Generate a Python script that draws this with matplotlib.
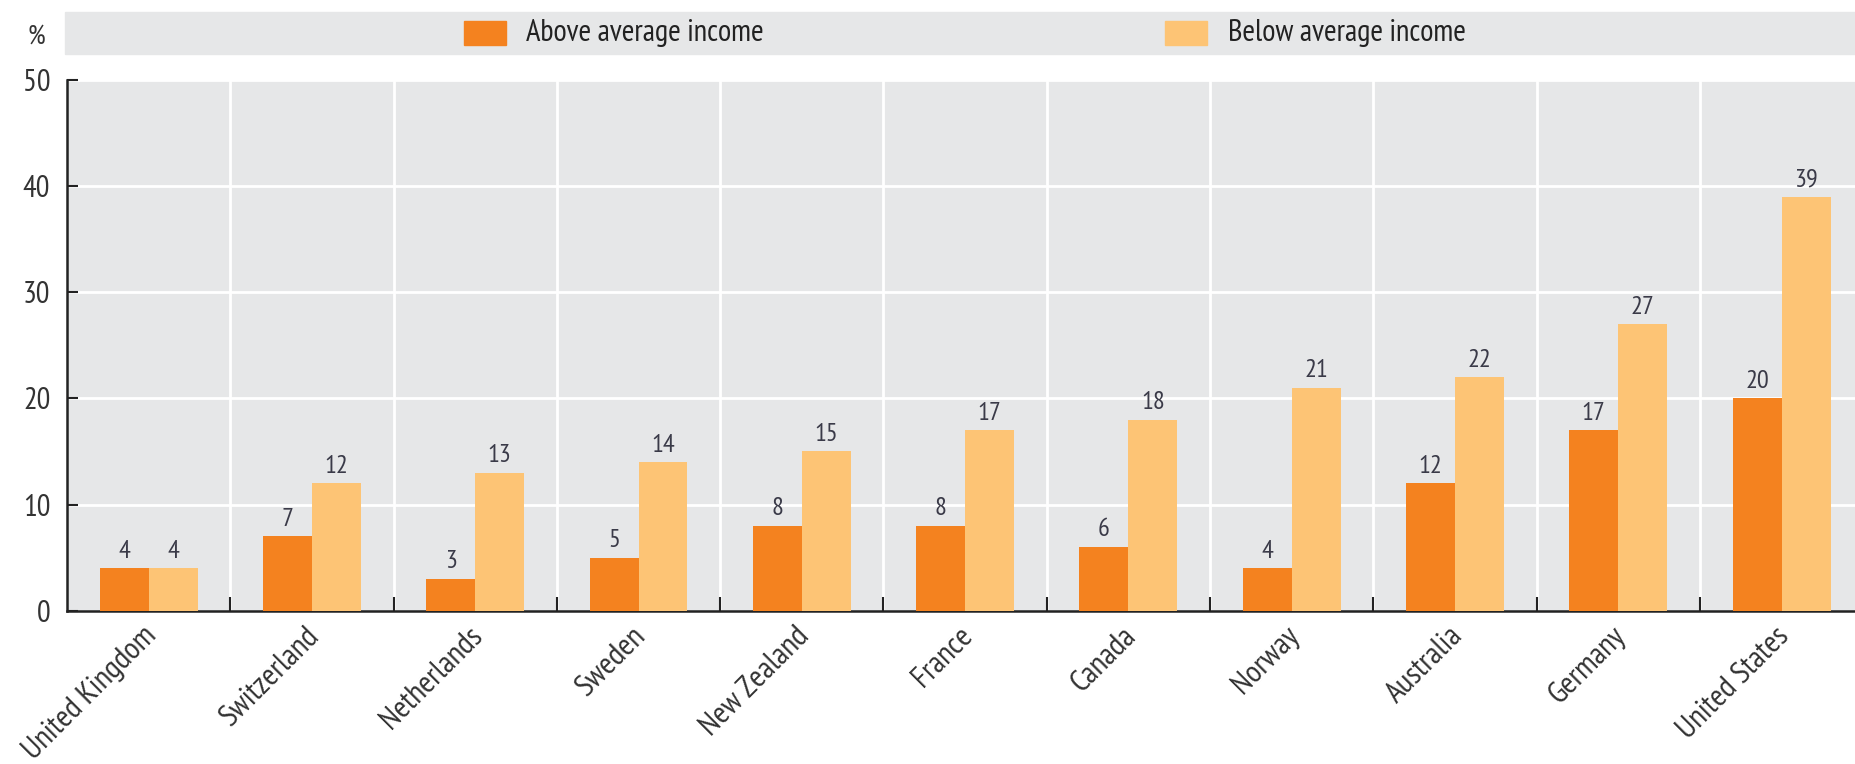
import matplotlib
matplotlib.use("Agg")
import matplotlib.pyplot as plt
from matplotlib.patches import Rectangle
import numpy as np

plt.rcParams['font.family'] = ['PT Sans Narrow', 'Liberation Sans', 'DejaVu Sans']

countries = ["United Kingdom", "Switzerland", "Netherlands", "Sweden", "New Zealand",
             "France", "Canada", "Norway", "Australia", "Germany", "United States"]
above = [4, 7, 3, 5, 8, 8, 6, 4, 12, 17, 20]
below = [4, 12, 13, 14, 15, 17, 18, 21, 22, 27, 39]
series_names = ["Above average income", "Below average income"]
yticks = [0, 10, 20, 30, 40, 50]

c_above = "#F4821F"
c_below = "#FDC475"
bg = "#E6E7E8"
txt = "#3A3A48"

W, H = 1855, 764
fig = plt.figure(figsize=(W / 100, H / 100), dpi=100)

left_px, right_px = 67, 1855
top_px, bot_px = 80.5, 610.5
ax = fig.add_axes([left_px / W, 1 - bot_px / H, (right_px - left_px) / W, (bot_px - top_px) / H])
ax.set_facecolor(bg)

x = np.arange(len(countries))
bw = 0.3
b1 = ax.bar(x - bw / 2, above, width=bw, color=c_above, zorder=3)
b2 = ax.bar(x + bw / 2, below, width=bw, color=c_below, zorder=3)

for rect, v in zip(b1, above):
    ax.annotate(str(v), (rect.get_x() + rect.get_width() / 2, v), xytext=(0, 4),
                textcoords="offset points", ha="center", va="bottom", fontsize=19, color=txt)
for rect, v in zip(b2, below):
    ax.annotate(str(v), (rect.get_x() + rect.get_width() / 2, v), xytext=(0, 4),
                textcoords="offset points", ha="center", va="bottom", fontsize=19, color=txt)

ax.set_xlim(-0.5, 10.45)
ax.set_ylim(0, 50)

# gridlines
for yv in yticks[1:]:
    ax.axhline(yv, color="white", lw=2, zorder=1)
for b in np.arange(0.5, len(countries) - 0.5, 1.0):
    ax.axvline(b, color="white", lw=2, zorder=1)

ax.set_yticks(yticks)
ax.set_yticklabels([str(v) for v in yticks], fontsize=22, color="#333333")
ax.tick_params(axis="y", direction="in", length=8, width=1.5, pad=12, colors="#222222",
               labelcolor="#333333")

ax.set_xticks(x - 0.04)
ax.set_xticklabels(countries, rotation=45, ha="right", rotation_mode="anchor",
                   fontsize=22.5, color="#333333")
ax.tick_params(axis="x", length=0, pad=8)
ax.set_xticks(np.arange(0.5, len(countries) - 0.5, 1.0), minor=True)
ax.tick_params(axis="x", which="minor", direction="in", length=10, width=1.5, colors="#222222")

for s in ["top", "right"]:
    ax.spines[s].set_visible(False)
for s in ["left", "bottom"]:
    ax.spines[s].set_color("#222222")
    ax.spines[s].set_linewidth(1.8)

# legend band
fig.patches.append(Rectangle((65 / W, 1 - 54 / H), (W - 65) / W, 42 / H,
                             transform=fig.transFigure, color=bg, zorder=0))
sq_w, sq_h = 42 / W, 24 / H
for (sx, tx), name, col in zip([(464, 526), (1165, 1228)], series_names, [c_above, c_below]):
    fig.patches.append(Rectangle((sx / W, 1 - 45 / H), sq_w, sq_h,
                                 transform=fig.transFigure, color=col, zorder=1))
    fig.text(tx / W, 1 - 33 / H, name, fontsize=22, color="#222222", va="center", ha="left")

fig.text(36 / W, 1 - 37 / H, "%", fontsize=20, color="#333333", va="center", ha="center")

fig.savefig("out.png", dpi=100)
